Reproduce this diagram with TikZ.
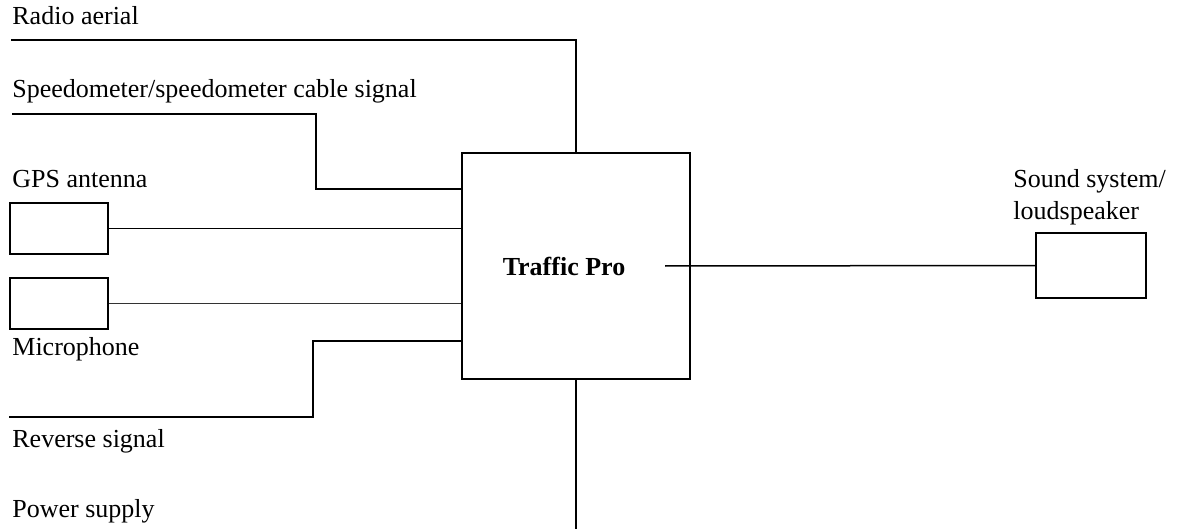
\documentclass[tikz,border=0pt]{standalone}
\usepackage{fontspec}
\setmainfont{Liberation Serif}
\usetikzlibrary{positioning}
\tikzset{
  unit/.style={draw, line width=0.75pt, inner sep=0pt},
  lbl/.style={anchor=base west, inner sep=0pt, font=\fontsize{13}{15}\selectfont},
  wire/.style={line width=0.75pt},
}
\begin{document}
\begin{tikzpicture}[x=0.5pt, y=-0.5pt]
    \useasboundingbox (0,0) rectangle (1177,529);
    % boxes
    \node[unit, minimum width=114pt, minimum height=113pt] (main) at (576,266) {};
    \node[font=\fontsize{13}{15}\selectfont\bfseries] (mainlbl) at (564,266) {Traffic Pro};
    \node[unit, minimum width=49pt, minimum height=25.5pt] (gps) at (59,228.5) {};
    \node[unit, minimum width=49pt, minimum height=25.5pt] (mic) at (59,303.5) {};
    \node[unit, minimum width=55pt, minimum height=32.5pt] (speaker) at (1091,265.5) {};
    % labels
    \node[lbl] (radiolbl) at (12,25) {Radio aerial};
    \node[lbl] (speedolbl) at (12,98) {Speedometer/speedometer cable signal};
    \node[lbl] (gpslbl) at (12,188) {GPS antenna};
    \node[lbl] (miclbl) at (12,355) {Microphone};
    \node[lbl] (revlbl) at (12,447) {Reverse signal};
    \node[lbl] (powerlbl) at (12,517) {Power supply};
    \node[lbl] (spklbl) at (1013,188) {Sound system/};
    \node[lbl] (spklbl2) at (1013,220) {loudspeaker};
    % free ends
    \coordinate (radio) at (11,40);
    \coordinate (speedo) at (12,114);
    \coordinate (speedobend) at (316,189);
    \coordinate (rev) at (9,417);
    \coordinate (revbend) at (313,341);
    \coordinate (power) at (576,529);
    \coordinate (spk) at (665,266);
    % wires
    \draw[wire] (radio) -| (main.north);
    \draw[wire] (speedo) -| (speedobend) -- (speedobend -| main.west);
    \draw[wire] (gps.east) -- (gps.east -| main.west);
    \draw[line width=0.4pt, black!80] (mic.east) -- (mic.east -| main.west);
    \draw[wire] (rev) -| (revbend) -- (revbend -| main.west);
    \draw[wire] (main.south) -- (power);
    \draw[wire] (spk) -- (speaker.west);
\end{tikzpicture}
\end{document}
